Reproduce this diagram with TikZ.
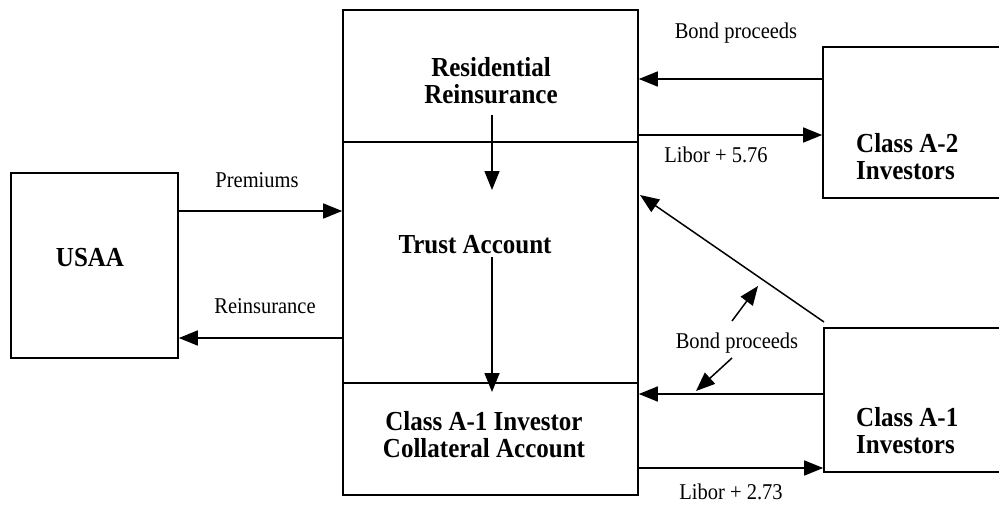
\documentclass[tikz,border=0pt]{standalone}
\usepackage{graphicx}
\usepackage{fontspec}
\setmainfont{Liberation Serif}
\usetikzlibrary{arrows.meta}
\newcommand\sy[1]{\scalebox{1}[1.1]{#1}}
\newcommand\twol[2]{\sy{\begin{tabular}{@{}c@{}}#1\\[-2pt]#2\end{tabular}}}
\newcommand\twoleft[2]{\sy{\begin{tabular}{@{}l@{}}#1\\[-2pt]#2\end{tabular}}}
\begin{document}
\begin{tikzpicture}[x=1pt,y=-1pt,
  box/.style={draw,line width=1.6pt,inner sep=0pt},
  big/.style={font=\fontsize{25}{27}\selectfont\bfseries,inner sep=0pt},
  small/.style={font=\fontsize{20.5}{22}\selectfont,inner sep=0pt},
  conn/.style={line width=1.5pt},
  arr/.style={conn,-{Triangle[length=19pt,width=15pt]}}]
\useasboundingbox (0,0) rectangle (999,507);
% boxes
\node[box,minimum width=167pt,minimum height=185pt] (usaa) at (94.5,265.5) {};
\node[box,minimum width=295pt,minimum height=132pt] (res) at (490.5,76) {};
\node[box,minimum width=295pt,minimum height=241pt] (trust) at (490.5,262.5) {};
\node[box,minimum width=295pt,minimum height=112pt] (coll) at (490.5,439) {};
\node[box,minimum width=187pt,minimum height=151pt] (a2) at (916.5,122.5) {};
\node[box,minimum width=186pt,minimum height=144pt] (a1) at (917,400) {};
% box texts
\node[big] (tusaa) at (90,258) {\sy{USAA}};
\node[big] (tres) at (491,84) {\twol{Residential}{Reinsurance}};
\node[big] (ttrust) at (475,245) {\sy{Trust Account}};
\node[big] (tcoll) at (484,438) {\twol{Class A-1 Investor}{Collateral Account}};
\node[big,anchor=west] (ta2) at (856,160) {\twoleft{Class A-2}{Investors}};
\node[big,anchor=west] (ta1) at (856,434) {\twoleft{Class A-1}{Investors}};
% helper coordinates
\coordinate (yprem) at (0,211);
\coordinate (yrein) at (0,338);
\coordinate (ybp2) at (0,79);
\coordinate (ylib2) at (0,135);
\coordinate (ybp1) at (0,394);
\coordinate (ylib1) at (0,468);
\coordinate (vtop) at (492,115);
\coordinate (vtip) at (492,190);
\coordinate (vmid) at (492,257);
\coordinate (vtip2) at (492,392);
\coordinate (diagS) at (824,322);
\coordinate (diagE) at (640,195);
\coordinate (upS) at (732,321);
\coordinate (upE) at (758,286);
\coordinate (dnS) at (732,358);
\coordinate (dnE) at (696,391);
% connectors
\draw[arr] (usaa.east |- yprem) -- (trust.west |- yprem);
\draw[arr] (trust.west |- yrein) -- (usaa.east |- yrein);
\draw[arr] (a2.west |- ybp2) -- (res.east |- ybp2);
\draw[arr] (res.east |- ylib2) -- (a2.west |- ylib2);
\draw[arr] (a1.west |- ybp1) -- (coll.east |- ybp1);
\draw[arr] (coll.east |- ylib1) -- (a1.west |- ylib1);
\draw[arr] (vtop) -- (vtip);
\draw[arr] (vmid) -- (vtip2);
\draw[arr] (diagS) -- (diagE);
\draw[arr] (upS) -- (upE);
\draw[arr] (dnS) -- (dnE);
% labels
\node[small] (lprem) at (257,180) {\sy{Premiums}};
\node[small] (lrein) at (265,306) {\sy{Reinsurance}};
\node[small] (lbp2) at (736,33) {\sy{Bond proceeds}};
\node[small] (llib2) at (716,155) {\sy{Libor + 5.76}};
\node[small] (lbp1) at (737,343) {\sy{Bond proceeds}};
\node[small] (llib1) at (731,492) {\sy{Libor + 2.73}};
\end{tikzpicture}
\end{document}
